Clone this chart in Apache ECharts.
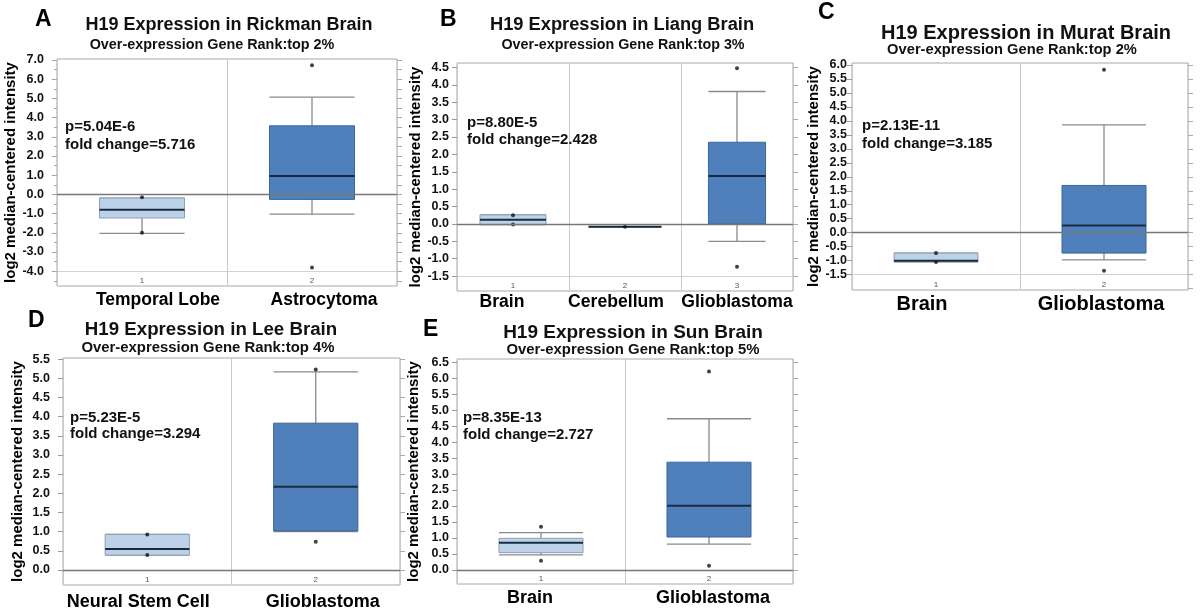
<!DOCTYPE html>
<html><head><meta charset="utf-8">
<script src="https://cdn.jsdelivr.net/npm/echarts@6/dist/echarts.min.js"></script>
<style>html,body{margin:0;padding:0;background:#fff}#c{width:1200px;height:614px}</style>
</head><body><div id="c"></div>
<script>
// ---------------- DATA ----------------
// stats per category: [min, Q1, median, Q3, max]
// A: Rickman Brain
const rickmanCategories = ['Temporal Lobe', 'Astrocytoma'];
const rickmanStats = [[-2.03, -1.23, -0.80, -0.19, -0.19], [-1.03, -0.26, 0.96, 3.57, 5.06]];
const rickmanPoints = [[0, -0.15], [0, -2.00], [1, 6.73], [1, -3.81]];
const rickmanTicks = [-4, -3, -2, -1, 0, 1, 2, 3, 4, 5, 6, 7];
// B: Liang Brain
const liangCategories = ['Brain', 'Cerebellum', 'Glioblastoma'];
const liangStats = [[-0.02, -0.02, 0.12, 0.26, 0.26], [-0.08, -0.08, -0.08, -0.08, -0.08], [-0.50, 0.00, 1.38, 2.35, 3.81]];
const liangPoints = [[0, 0.25], [0, -0.02], [1, -0.08], [2, 4.48], [2, -1.23]];
const liangTicks = [-1.5, -1, -0.5, 0, 0.5, 1, 1.5, 2, 2.5, 3, 3.5, 4, 4.5];
// C: Murat Brain
const muratCategories = ['Brain', 'Glioblastoma'];
const muratStats = [[-1.04, -1.04, -1.00, -0.73, -0.73], [-0.97, -0.73, 0.26, 1.69, 3.86]];
const muratPoints = [[0, -0.73], [0, -1.05], [1, 5.83], [1, -1.36]];
const muratTicks = [-1.5, -1, -0.5, 0, 0.5, 1, 1.5, 2, 2.5, 3, 3.5, 4, 4.5, 5, 5.5, 6];
// D: Lee Brain
const leeCategories = ['Neural Stem Cell', 'Glioblastoma'];
const leeStats = [[0.39, 0.39, 0.55, 0.93, 0.93], [1.00, 1.02, 2.17, 3.83, 5.17]];
const leePoints = [[0, 0.93], [0, 0.39], [1, 5.23], [1, 0.74]];
const leeTicks = [0, 0.5, 1, 1.5, 2, 2.5, 3, 3.5, 4, 4.5, 5, 5.5];
// E: Sun Brain
const sunCategories = ['Brain', 'Glioblastoma'];
const sunStats = [[0.47, 0.54, 0.85, 0.99, 1.17], [0.81, 1.03, 2.01, 3.37, 4.73]];
const sunPoints = [[0, 1.35], [0, 0.29], [1, 6.21], [1, 0.13]];
const sunTicks = [0, 0.5, 1, 1.5, 2, 2.5, 3, 3.5, 4, 4.5, 5, 5.5, 6, 6.5];

const panelLetters = ['A', 'B', 'C', 'D', 'E'];
const panelTitles = ['H19 Expression in Rickman Brain', 'H19 Expression in Liang Brain', 'H19 Expression in Murat Brain', 'H19 Expression in Lee Brain', 'H19 Expression in Sun Brain'];
const panelSubtitles = ['Over-expression Gene Rank:top 2%', 'Over-expression Gene Rank:top 3%', 'Over-expression Gene Rank:top 2%', 'Over-expression Gene Rank:top 4%', 'Over-expression Gene Rank:top 5%'];
const pValues = ['p=5.04E-6', 'p=8.80E-5', 'p=2.13E-11', 'p=5.23E-5', 'p=8.35E-13'];
const foldChanges = ['fold change=5.716', 'fold change=2.428', 'fold change=3.185', 'fold change=3.294', 'fold change=2.727'];
const yAxisTitle = 'log2 median-centered intensity';

// ---------------- LAYOUT / STYLE ----------------
const FONT = '"Liberation Sans", Arial, Helvetica, sans-serif';
const LIGHT_FILL = '#bdd2e9', LIGHT_STROKE = '#8aa0b8';
const DARK_FILL = '#4f80bb', DARK_STROKE = '#3b6698';
const MEDIAN = '#1b2b3f', WHISKER = '#8a8a8a';

const panels = [
  { cats: rickmanCategories, stats: rickmanStats, pts: rickmanPoints, ticks: rickmanTicks,
    grid: { left: 57, top: 59, width: 340, height: 227 }, yMin: -4.77, yMax: 7.05, refLine: -4, minor: true,
    labelMargin: 13, labelSize: 12.5, nameGap: 30, catSize: 17.5, catMargin: 5, catShift: [16, 12], boxFrac: [0.5, 0.5], dark: [false, true],
    letter: [35, 20], title: [229, 25, 18], sub: [212, 45, 14.4], pText: [65, 127, 145] },
  { cats: liangCategories, stats: liangStats, pts: liangPoints, ticks: liangTicks,
    grid: { left: 457, top: 63, width: 336, height: 228 }, yMin: -1.93, yMax: 4.63, refLine: -1.5, minor: false,
    labelMargin: 8, labelSize: 12.5, nameGap: 34, catSize: 17.6, catMargin: 2, catShift: [-11, -9, 0], boxFrac: [0.59, 0.65, 0.51], dark: [false, false, true],
    letter: [440, 20], title: [622, 25, 18.3], sub: [623, 45, 14.3], pText: [467, 123, 140] },
  { cats: muratCategories, stats: muratStats, pts: muratPoints, ticks: muratTicks,
    grid: { left: 852, top: 63, width: 336, height: 227 }, yMin: -2.05, yMax: 6.07, refLine: -1.5, minor: false,
    labelMargin: 5, labelSize: 12.5, nameGap: 28, catSize: 20, catMargin: 4, catShift: [-14, -3], boxFrac: [0.5, 0.5], dark: [false, true],
    letter: [818, 13], title: [1026, 33, 20], sub: [1012, 50, 14.7], pText: [862, 126, 144] },
  { cats: leeCategories, stats: leeStats, pts: leePoints, ticks: leeTicks,
    grid: { left: 63, top: 358, width: 337, height: 227 }, yMin: -0.39, yMax: 5.53, refLine: 0, minor: false,
    labelMargin: 13, labelSize: 12.5, nameGap: 38, catSize: 18, catMargin: 8, catShift: [-9, 7], boxFrac: [0.5, 0.5], dark: [false, true],
    letter: [28, 321], title: [211, 330, 18.7], sub: [208, 348, 14.9], pText: [70, 418, 434] },
  { cats: sunCategories, stats: sunStats, pts: sunPoints, ticks: sunTicks,
    grid: { left: 457, top: 359, width: 336, height: 225 }, yMin: -0.44, yMax: 6.6, refLine: 0, minor: false,
    labelMargin: 8, labelSize: 12.5, nameGap: 36, catSize: 18, catMargin: 5, catShift: [-11, 4], boxFrac: [0.5, 0.5], dark: [false, true],
    letter: [423, 330], title: [633, 333, 19], sub: [633, 350, 14.9], pText: [463, 418, 435] }
];

function halfSteps(lo, hi) {
  const out = [];
  for (let v = Math.ceil(lo * 2) / 2; v <= hi + 1e-9; v += 0.5) out.push(Math.round(v * 10) / 10);
  return out;
}

function makeRender(p) {
  return function (params, api) {
    const ci = api.value(0);
    const vmin = api.value(1), q1 = api.value(2), med = api.value(3), q3 = api.value(4), vmax = api.value(5);
    const bw = api.size([1, 0])[0] * p.boxFrac[ci];
    const cx = api.coord([ci, med])[0];
    const y = v => api.coord([ci, v])[1];
    const x0 = cx - bw / 2, x1 = cx + bw / 2;
    const dark = p.dark[ci];
    const wl = { stroke: WHISKER, lineWidth: 1.3 };
    return {
      type: 'group',
      children: [
        { type: 'line', shape: { x1: cx, y1: y(vmax), x2: cx, y2: y(q3) }, style: wl },
        { type: 'line', shape: { x1: cx, y1: y(q1), x2: cx, y2: y(vmin) }, style: wl },
        { type: 'line', shape: { x1: x0, y1: y(vmax), x2: x1, y2: y(vmax) }, style: wl },
        { type: 'line', shape: { x1: x0, y1: y(vmin), x2: x1, y2: y(vmin) }, style: wl },
        { type: 'rect', shape: { x: x0, y: y(q3), width: bw, height: y(q1) - y(q3) },
          style: { fill: dark ? DARK_FILL : LIGHT_FILL, stroke: dark ? DARK_STROKE : LIGHT_STROKE, lineWidth: 1 } },
        { type: 'line', shape: { x1: x0, y1: y(med), x2: x1, y2: y(med) }, style: { stroke: MEDIAN, lineWidth: 2 } }
      ]
    };
  };
}

const option = { animation: false, backgroundColor: '#fff', grid: [], xAxis: [], yAxis: [], series: [], graphic: [] };

panels.forEach((p, k) => {
  option.grid.push(Object.assign({ show: true, borderColor: '#a8a8a8', borderWidth: 1, backgroundColor: '#fff' }, p.grid));
  const nums = p.cats.map((c, i) => String(i + 1));
  option.xAxis.push({
    type: 'category', gridIndex: k, data: nums, position: 'bottom',
    axisLine: { show: false }, axisTick: { show: false },
    splitLine: { show: true, lineStyle: { color: '#c9c9c9', width: 1 } },
    axisLabel: { inside: true, margin: 1, fontSize: 8, color: '#555', fontFamily: FONT }
  });
  const rich = {};
  p.catShift.forEach((d, i) => {
    rich['c' + i] = { fontSize: p.catSize, fontWeight: 'bold', color: '#000', fontFamily: FONT,
      padding: d >= 0 ? [0, 0, 0, 2 * d] : [0, -2 * d, 0, 0] };
  });
  option.xAxis.push({
    type: 'category', gridIndex: k, data: p.cats, position: 'bottom',
    axisLine: { show: false }, axisTick: { show: false }, splitLine: { show: false },
    axisLabel: { margin: p.catMargin, fontSize: p.catSize, fontWeight: 'bold', color: '#000', fontFamily: FONT, interval: 0,
      formatter: (v, i) => '{c' + i + '|' + v + '}', rich: rich }
  });
  const halves = halfSteps(p.yMin, p.yMax);
  option.yAxis.push({
    type: 'value', gridIndex: k, min: p.yMin, max: p.yMax, position: 'left',
    axisLine: { show: false }, splitLine: { show: false },
    axisTick: { show: true, customValues: p.ticks, length: 5, lineStyle: { color: '#999' } },
    axisLabel: { customValues: p.ticks, formatter: v => v.toFixed(1), fontSize: p.labelSize, fontWeight: 'bold', color: '#111', margin: p.labelMargin, fontFamily: FONT },
    name: yAxisTitle, nameLocation: 'middle', nameRotate: 90, nameGap: p.nameGap,
    nameTextStyle: { fontSize: 15, fontWeight: 'bold', color: '#000', fontFamily: FONT }
  });
  option.yAxis.push({
    type: 'value', gridIndex: k, min: p.yMin, max: p.yMax, position: 'left', show: p.minor,
    axisLine: { show: false }, splitLine: { show: false }, axisLabel: { show: false },
    axisTick: { show: true, customValues: halves, length: 3, lineStyle: { color: '#aaa' } }
  });
  option.yAxis.push({
    type: 'value', gridIndex: k, min: p.yMin, max: p.yMax, position: 'right',
    axisLine: { show: false }, splitLine: { show: false }, axisLabel: { show: false },
    axisTick: { show: true, customValues: halves, length: 5, lineStyle: { color: '#aaa' } }
  });
  const xi = 2 * k, yi = 3 * k;
  option.series.push({
    type: 'custom', xAxisIndex: xi, yAxisIndex: yi, renderItem: makeRender(p),
    encode: { x: 0, y: [1, 2, 3, 4, 5] },
    data: p.stats.map((s, i) => [i].concat(s)), z: 2
  });
  const mlData = [{ yAxis: 0, lineStyle: { color: '#777', width: 1.3, type: 'solid' } }];
  if (p.refLine !== 0) mlData.push({ yAxis: p.refLine, lineStyle: { color: '#d2d2d2', width: 1, type: 'solid' } });
  option.series.push({
    type: 'scatter', xAxisIndex: xi, yAxisIndex: yi, data: p.pts, symbolSize: 4,
    itemStyle: { color: '#111' }, z: 3,
    markLine: { silent: true, symbol: 'none', label: { show: false }, animation: false, data: mlData }
  });
  option.graphic.push({ type: 'text', x: p.letter[0], y: p.letter[1],
    style: { text: panelLetters[k], fill: '#000', fontSize: 23, fontWeight: 'bold', fontFamily: FONT, textAlign: 'left', textVerticalAlign: 'middle' } });
  option.graphic.push({ type: 'text', x: p.title[0], y: p.title[1],
    style: { text: panelTitles[k], fill: '#111', fontSize: p.title[2], fontWeight: 'bold', fontFamily: FONT, textAlign: 'center', textVerticalAlign: 'middle' } });
  option.graphic.push({ type: 'text', x: p.sub[0], y: p.sub[1],
    style: { text: panelSubtitles[k], fill: '#111', fontSize: p.sub[2], fontWeight: 'bold', fontFamily: FONT, textAlign: 'center', textVerticalAlign: 'middle' } });
  option.graphic.push({ type: 'text', x: p.pText[0], y: p.pText[1], z: 10,
    style: { text: pValues[k], fill: '#111', fontSize: 15, fontWeight: 'bold', fontFamily: FONT, textAlign: 'left', textVerticalAlign: 'middle' } });
  option.graphic.push({ type: 'text', x: p.pText[0], y: p.pText[2], z: 10,
    style: { text: foldChanges[k], fill: '#111', fontSize: 15, fontWeight: 'bold', fontFamily: FONT, textAlign: 'left', textVerticalAlign: 'middle' } });
});

const chart = echarts.init(document.getElementById('c'));
chart.setOption(option);
</script>
</body></html>
